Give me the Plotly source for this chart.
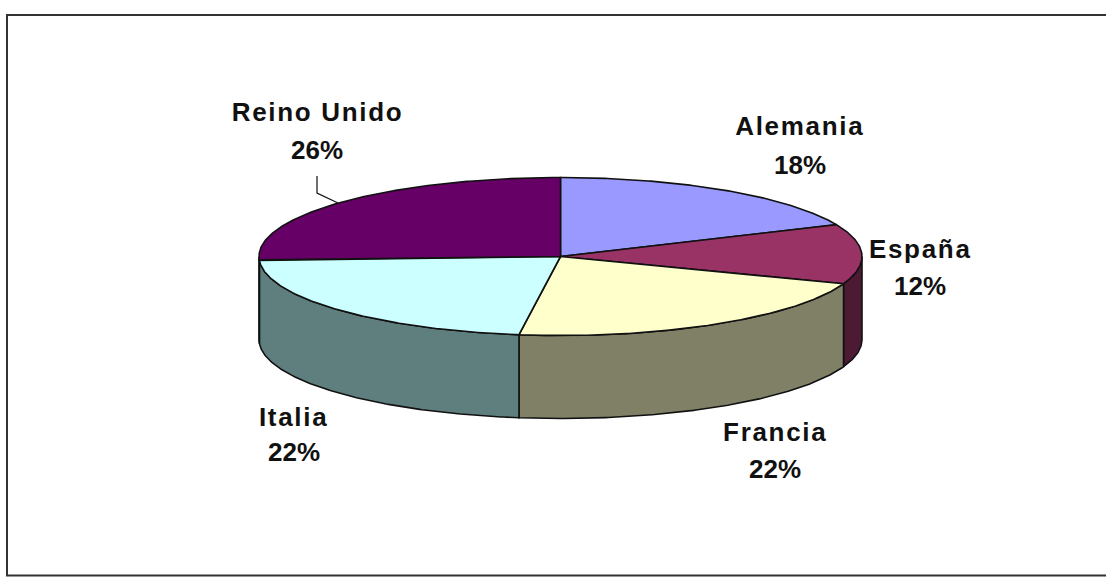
import numpy as np
import plotly.graph_objects as go

categories = ["Alemania", "España", "Francia", "Italia", "Reino Unido"]
values = [18.4, 12.2, 21.6, 22.0, 25.8]
top_colors = ["#9999FF", "#993366", "#FFFFCC", "#CCFFFF", "#660066"]
side_colors = ["#4D4D80", "#4D1A33", "#808066", "#5F7F7F", "#330033"]

W, H = 1106, 577
CX, CY, RX, RY, DEPTH = 560.5, 256.5, 301.5, 79, 83
OUTLINE = "#111111"

# label centres in pixels: x, name line y, percent line y
label_pos = {
    "Alemania": (800, 126, 165),
    "España": (920, 249, 286),
    "Francia": (775, 432, 469),
    "Italia": (294, 417, 452),
    "Reino Unido": (317, 112, 150),
}


def ell(deg):
    t = np.radians(deg)
    return CX + RX * np.sin(t), CY - RY * np.cos(t)


def arc(a, b):
    n = max(2, int(abs(b - a)) * 2 + 2)
    return np.linspace(a, b, n)


total = sum(values)
edges = np.concatenate([[0], np.cumsum(values)]) * 360 / total

fig = go.Figure()

# side walls (front half of the cylinder only)
for i, c in enumerate(categories):
    a, b = max(edges[i], 90), min(edges[i + 1], 270)
    if a >= b:
        continue
    x, y = ell(arc(a, b))
    xs = np.concatenate([x, x[::-1], x[:1]])
    ys = np.concatenate([y, y[::-1] + DEPTH, y[:1]])
    fig.add_trace(go.Scatter(x=xs, y=ys, mode="lines", fill="toself", fillcolor=side_colors[i],
                             line=dict(color=OUTLINE, width=1.6), hoverinfo="skip", showlegend=False))

# top faces
for i, c in enumerate(categories):
    x, y = ell(arc(edges[i], edges[i + 1]))
    xs = np.concatenate([[CX], x, [CX]])
    ys = np.concatenate([[CY], y, [CY]])
    fig.add_trace(go.Scatter(x=xs, y=ys, mode="lines", fill="toself", fillcolor=top_colors[i],
                             line=dict(color=OUTLINE, width=1.6), name=c, showlegend=False,
                             hovertemplate=f"{c}: {round(values[i])}%<extra></extra>"))

# leader line for Reino Unido
fig.add_trace(go.Scatter(x=[317, 317, 338], y=[176, 193, 203], mode="lines",
                         line=dict(color=OUTLINE, width=1.2), hoverinfo="skip", showlegend=False))

annotations = []
for c, v in zip(categories, values):
    x, y1, y2 = label_pos[c]
    for txt, yy in ((c, y1), (f"{round(100 * v / total)}%", y2)):
        annotations.append(dict(x=x, y=yy, xref="x", yref="y", text=f"<b>{txt}</b>", showarrow=False,
                                xanchor="center", yanchor="middle",
                                font=dict(family="Liberation Sans", size=26, color="#111111")))

fig.update_layout(
    width=W, height=H, margin=dict(l=0, r=0, t=0, b=0), autosize=False,
    paper_bgcolor="white", plot_bgcolor="white", showlegend=False,
    xaxis=dict(range=[0, W], visible=False, fixedrange=True),
    yaxis=dict(range=[H, 0], visible=False, fixedrange=True),
    annotations=annotations,
    shapes=[dict(type="rect", xref="x", yref="y", x0=7, y0=15, x1=W + 10, y1=575.5,
                 line=dict(color="#333333", width=2), fillcolor="rgba(0,0,0,0)", layer="below")],
)

spacing_js = """
document.querySelectorAll('.annotation-text').forEach(function (t) {
  t.style.letterSpacing = t.textContent.endsWith('%') ? '0px' : '1.7px';
});
document.body.style.margin = '0';
"""
fig.write_html("out.html", post_script=spacing_js, config={"displayModeBar": False})
